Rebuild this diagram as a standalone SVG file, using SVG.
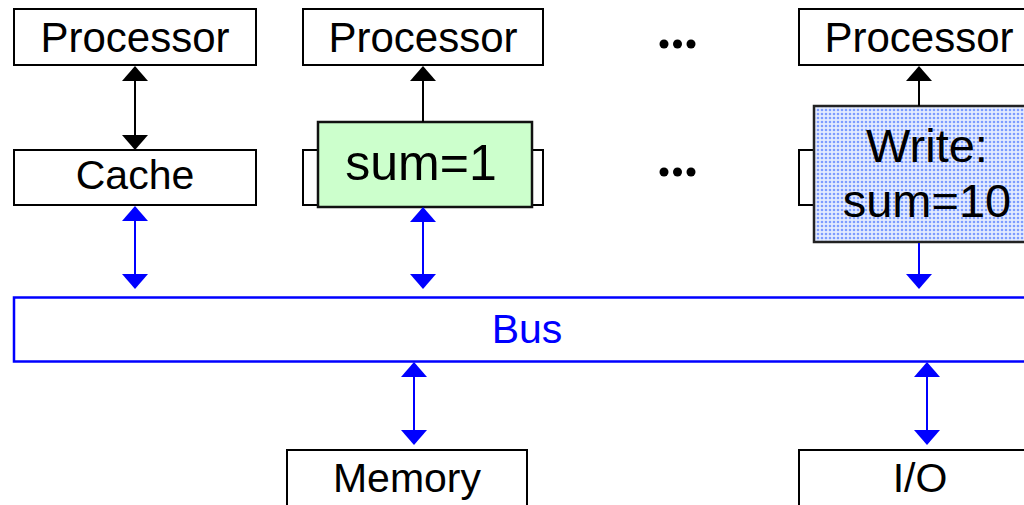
<svg xmlns="http://www.w3.org/2000/svg" width="1024" height="505" viewBox="0 0 1024 505">
  <style>
    .box { fill: #ffffff; stroke: #000000; stroke-width: 2; }
    .lbl { font-family: "Liberation Sans", Arial, Helvetica, sans-serif; font-size: 41px; fill: #000000; text-anchor: middle; }
    .proc { font-size: 42px; }
    .big { font-size: 47px; }
    .link { stroke: #000000; stroke-width: 2; fill: none; }
    .blink { stroke: #0000ff; stroke-width: 2; fill: none; }
  </style>
  <defs>
    <marker id="headK" viewBox="0 0 15 26" markerWidth="15" markerHeight="26" markerUnits="userSpaceOnUse" refX="7" refY="13" orient="auto-start-reverse">
      <path d="M0,0 L15,13 L0,26 z" fill="#000000"/>
    </marker>
    <marker id="headB" viewBox="0 0 15 26" markerWidth="15" markerHeight="26" markerUnits="userSpaceOnUse" refX="7" refY="13" orient="auto-start-reverse">
      <path d="M0,0 L15,13 L0,26 z" fill="#0000ff"/>
    </marker>
    <!-- halftone fill for the cache line being written -->
    <pattern id="dots" width="4" height="4" patternUnits="userSpaceOnUse">
      <rect width="4" height="4" fill="#e4ecff"/>
      <circle cx="2" cy="2" r="1.3" fill="#7d9cff"/>
    </pattern>
  </defs>

  <!-- column 1 -->
  <g id="proc1">
    <rect class="box" x="14" y="9" width="242" height="56"/>
    <text class="lbl proc" x="135" y="52">Processor</text>
  </g>
  <g id="cache1">
    <rect class="box" x="14" y="150" width="242" height="55"/>
    <text class="lbl" x="135" y="189">Cache</text>
  </g>

  <!-- column 2 -->
  <g id="proc2">
    <rect class="box" x="303" y="9" width="240" height="56"/>
    <text class="lbl proc" x="423" y="52">Processor</text>
  </g>
  <g id="cache2">
    <rect class="box" x="303" y="150" width="240" height="55"/>
    <rect x="318" y="122" width="214" height="85" fill="#ccffcc" stroke="#111111" stroke-width="2.5"/>
    <text class="lbl" x="421" y="180" style="font-size:50px">sum=1</text>
  </g>

  <!-- ellipses -->
  <g id="ellipsis-top" fill="#000000">
    <circle cx="664" cy="44" r="4.5"/>
    <circle cx="677.5" cy="44" r="4.5"/>
    <circle cx="691" cy="44" r="4.5"/>
  </g>
  <g id="ellipsis-mid" fill="#000000">
    <circle cx="664" cy="172" r="4.5"/>
    <circle cx="677.5" cy="172" r="4.5"/>
    <circle cx="691" cy="172" r="4.5"/>
  </g>

  <!-- column 3 -->
  <g id="proc3">
    <rect class="box" x="799" y="9" width="242" height="56"/>
    <text class="lbl proc" x="919" y="52">Processor</text>
  </g>
  <g id="cache3">
    <rect class="box" x="799" y="150" width="242" height="55"/>
    <rect x="814" y="106" width="228" height="136" fill="url(#dots)" stroke="#222222" stroke-width="2.5"/>
    <text class="lbl big" x="927" y="162">Write:</text>
    <text class="lbl big" x="927" y="217">sum=10</text>
  </g>

  <!-- shared bus -->
  <g id="bus">
    <rect x="14" y="297.5" width="1040" height="64" fill="#ffffff" stroke="#0000ff" stroke-width="2.5"/>
    <text class="lbl" x="527" y="343" style="fill:#0000ff">Bus</text>
  </g>

  <g id="memory">
    <rect class="box" x="287" y="450" width="240" height="70"/>
    <text class="lbl" x="407" y="492">Memory</text>
  </g>
  <g id="io">
    <rect class="box" x="799" y="450" width="242" height="70"/>
    <text class="lbl" x="920" y="492">I/O</text>
  </g>

  <!-- connectors -->
  <g id="connectors">
    <line class="link" x1="135" y1="74" x2="135" y2="142" marker-start="url(#headK)" marker-end="url(#headK)"/>
    <line class="link" x1="423" y1="122" x2="423" y2="74" marker-end="url(#headK)"/>
    <line class="link" x1="919" y1="106" x2="919" y2="74" marker-end="url(#headK)"/>

    <line class="blink" x1="135" y1="214" x2="135" y2="281" marker-start="url(#headB)" marker-end="url(#headB)"/>
    <line class="blink" x1="423" y1="215" x2="423" y2="281" marker-start="url(#headB)" marker-end="url(#headB)"/>
    <line class="blink" x1="919" y1="243" x2="919" y2="281" marker-end="url(#headB)"/>

    <line class="blink" x1="414" y1="370" x2="414" y2="437" marker-start="url(#headB)" marker-end="url(#headB)"/>
    <line class="blink" x1="927" y1="370" x2="927" y2="437" marker-start="url(#headB)" marker-end="url(#headB)"/>
  </g>
</svg>
